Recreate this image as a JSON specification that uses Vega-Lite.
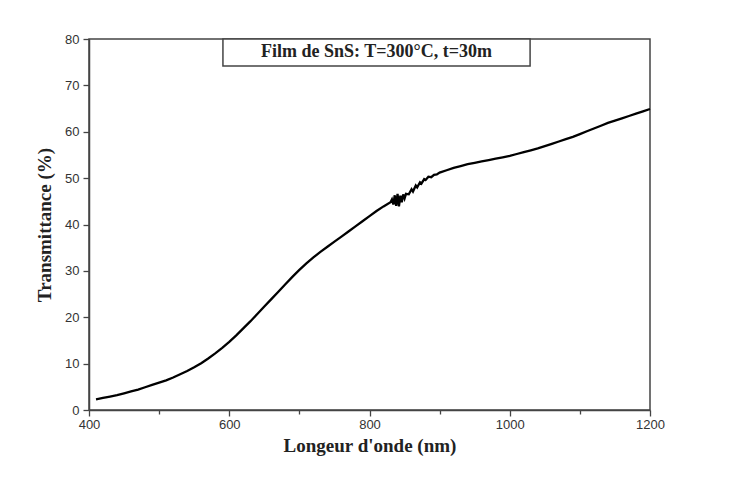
{
  "$schema": "https://vega.github.io/schema/vega-lite/v6.json",
  "width": 561,
  "height": 371,
  "autosize": {"type": "none"},
  "padding": {"left": 89, "top": 39, "right": 102, "bottom": 69},
  "background": "white",
  "config": {"view": {"stroke": "#444", "strokeWidth": 1.5}},
  "datasets": {
    "curve": [
      {"wl": 410, "T": 2.3}, {"wl": 420, "T": 2.6}, {"wl": 430, "T": 2.9}, {"wl": 440, "T": 3.2},
      {"wl": 450, "T": 3.6}, {"wl": 460, "T": 4.0}, {"wl": 470, "T": 4.4}, {"wl": 480, "T": 4.9},
      {"wl": 490, "T": 5.4}, {"wl": 500, "T": 5.9}, {"wl": 510, "T": 6.4}, {"wl": 520, "T": 7.0},
      {"wl": 530, "T": 7.7}, {"wl": 540, "T": 8.4}, {"wl": 550, "T": 9.2}, {"wl": 560, "T": 10.1},
      {"wl": 570, "T": 11.1}, {"wl": 580, "T": 12.2}, {"wl": 590, "T": 13.4}, {"wl": 600, "T": 14.7},
      {"wl": 610, "T": 16.1}, {"wl": 620, "T": 17.6}, {"wl": 630, "T": 19.1}, {"wl": 640, "T": 20.7},
      {"wl": 650, "T": 22.3}, {"wl": 660, "T": 23.9}, {"wl": 670, "T": 25.5}, {"wl": 680, "T": 27.1},
      {"wl": 690, "T": 28.7}, {"wl": 700, "T": 30.2}, {"wl": 710, "T": 31.6}, {"wl": 720, "T": 32.9},
      {"wl": 730, "T": 34.1}, {"wl": 740, "T": 35.2}, {"wl": 750, "T": 36.3}, {"wl": 760, "T": 37.4},
      {"wl": 770, "T": 38.5}, {"wl": 780, "T": 39.6}, {"wl": 790, "T": 40.7}, {"wl": 800, "T": 41.8},
      {"wl": 810, "T": 42.9}, {"wl": 820, "T": 43.9}, {"wl": 830, "T": 44.8},
      {"wl": 832, "T": 45.4}, {"wl": 834, "T": 44.3}, {"wl": 836, "T": 46.3}, {"wl": 838, "T": 44.0},
      {"wl": 840, "T": 46.6}, {"wl": 842, "T": 43.9}, {"wl": 844, "T": 46.2}, {"wl": 846, "T": 44.8},
      {"wl": 848, "T": 46.5}, {"wl": 850, "T": 45.6}, {"wl": 852, "T": 46.6}, {"wl": 856, "T": 46.5},
      {"wl": 860, "T": 47.6}, {"wl": 862, "T": 47.1}, {"wl": 866, "T": 48.4}, {"wl": 868, "T": 48.0},
      {"wl": 872, "T": 49.1}, {"wl": 874, "T": 48.8}, {"wl": 878, "T": 49.8}, {"wl": 880, "T": 49.6},
      {"wl": 884, "T": 50.3}, {"wl": 888, "T": 50.2}, {"wl": 892, "T": 50.7}, {"wl": 896, "T": 50.8},
      {"wl": 900, "T": 51.2}, {"wl": 910, "T": 51.7}, {"wl": 920, "T": 52.2},
      {"wl": 930, "T": 52.6}, {"wl": 940, "T": 53.0}, {"wl": 950, "T": 53.3}, {"wl": 960, "T": 53.6},
      {"wl": 970, "T": 53.9}, {"wl": 980, "T": 54.2}, {"wl": 990, "T": 54.5}, {"wl": 1000, "T": 54.8},
      {"wl": 1010, "T": 55.2}, {"wl": 1020, "T": 55.6}, {"wl": 1030, "T": 56.0}, {"wl": 1040, "T": 56.4},
      {"wl": 1050, "T": 56.9}, {"wl": 1060, "T": 57.4}, {"wl": 1070, "T": 57.9}, {"wl": 1080, "T": 58.4},
      {"wl": 1090, "T": 58.9}, {"wl": 1100, "T": 59.5}, {"wl": 1110, "T": 60.1}, {"wl": 1120, "T": 60.7},
      {"wl": 1130, "T": 61.3}, {"wl": 1140, "T": 61.9}, {"wl": 1150, "T": 62.4}, {"wl": 1160, "T": 62.9},
      {"wl": 1170, "T": 63.4}, {"wl": 1180, "T": 63.9}, {"wl": 1190, "T": 64.4}, {"wl": 1200, "T": 64.9}
    ],
    "box": [{"x1": 591, "x2": 1029, "y1": 74.2, "y2": 80, "xm": 810, "ym": 77.1, "label": "Film de SnS: T=300°C, t=30m"}]
  },
  "layer": [
    {
      "data": {"name": "curve"},
      "mark": {"type": "line", "color": "black", "strokeWidth": 2.3, "interpolate": "linear"},
      "encoding": {
        "x": {
          "field": "wl", "type": "quantitative",
          "scale": {"domain": [400, 1200], "nice": false, "zero": false},
          "axis": {
            "title": "Longeur d'onde (nm)",
            "titleFont": "Liberation Serif", "titleFontSize": 19, "titleFontWeight": "bold", "titleColor": "#222",
            "titlePadding": 5,
            "values": [400, 500, 600, 700, 800, 900, 1000, 1100, 1200],
            "labelExpr": "datum.value % 200 === 0 ? datum.label : ''",
            "format": "d",
            "labelFlush": false,
            "labelFont": "Liberation Sans", "labelFontSize": 13, "labelColor": "#333",
            "labelPadding": 2,
            "tickSize": {"condition": {"test": "datum.value % 200 === 0", "value": 6}, "value": 4},
            "tickColor": "#444", "tickWidth": 1.3,
            "domainColor": "#444", "domainWidth": 1.5,
            "grid": false
          }
        },
        "y": {
          "field": "T", "type": "quantitative",
          "scale": {"domain": [0, 80], "nice": false},
          "axis": {
            "title": "Transmittance  (%)",
            "titleFont": "Liberation Serif", "titleFontSize": 19, "titleFontWeight": "bold", "titleColor": "#222",
            "titlePadding": 10,
            "values": [0, 5, 10, 15, 20, 25, 30, 35, 40, 45, 50, 55, 60, 65, 70, 75, 80],
            "labelExpr": "datum.value % 10 === 0 ? datum.label : ''",
            "labelFlush": false,
            "labelFont": "Liberation Sans", "labelFontSize": 13, "labelColor": "#333",
            "labelPadding": 4,
            "tickSize": {"condition": {"test": "datum.value % 10 === 0", "value": 6}, "value": 4},
            "tickColor": "#444", "tickWidth": 1.3,
            "domainColor": "#444", "domainWidth": 1.5,
            "grid": false
          }
        }
      }
    },
    {
      "data": {"name": "box"},
      "mark": {"type": "rect", "fill": "white", "stroke": "#444", "strokeWidth": 1.5},
      "encoding": {
        "x": {"field": "x1", "type": "quantitative"},
        "x2": {"field": "x2"},
        "y": {"field": "y1", "type": "quantitative"},
        "y2": {"field": "y2"}
      }
    },
    {
      "data": {"name": "box"},
      "mark": {"type": "text", "font": "Liberation Serif", "fontSize": 18, "fontWeight": "bold", "color": "#222", "baseline": "middle", "align": "center"},
      "encoding": {
        "x": {"field": "xm", "type": "quantitative"},
        "y": {"field": "ym", "type": "quantitative"},
        "text": {"field": "label"}
      }
    }
  ]
}
